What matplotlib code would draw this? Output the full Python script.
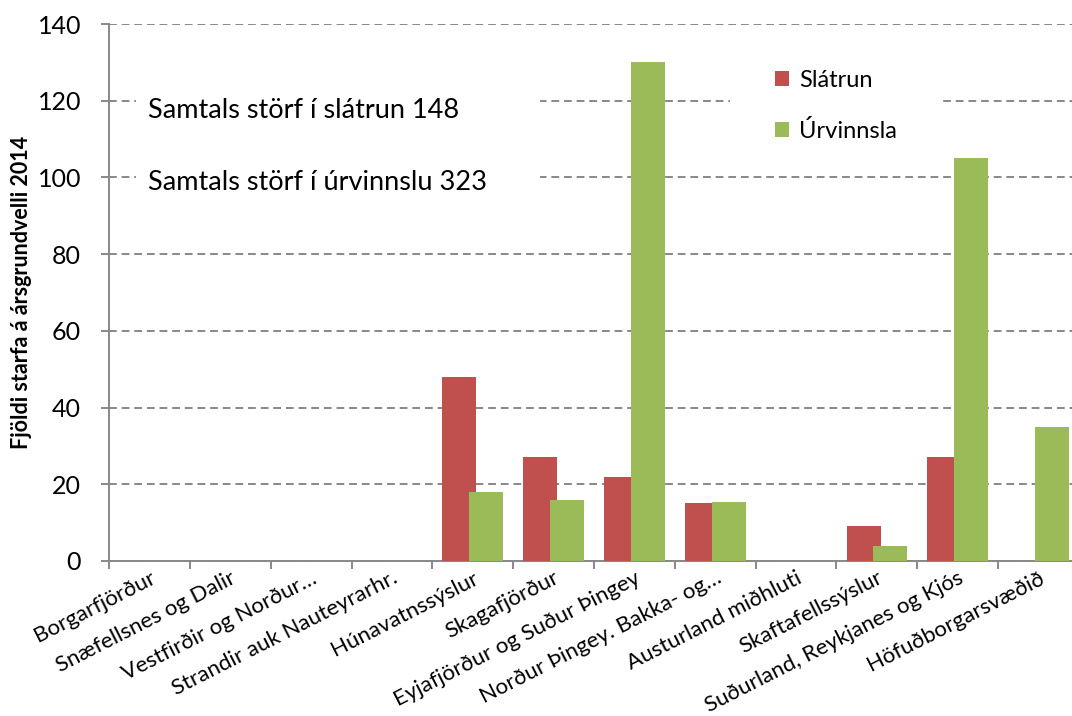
import numpy as np
import matplotlib.pyplot as plt
from matplotlib.patches import Rectangle

plt.rcParams['font.family'] = ['Lato', 'DejaVu Sans']

svaedi = ['Borgarfjörður', 'Snæfellsnes og Dalir', 'Vestfirðir og Norður…',
          'Strandir auk Nauteyrarhr.', 'Húnavatnssýslur', 'Skagafjörður',
          'Eyjafjörður og Suður Þingey', 'Norður Þingey. Bakka- og…',
          'Austurland miðhluti', 'Skaftafellssýslur',
          'Suðurland, Reykjanes og Kjós', 'Höfuðborgarsvæðið']
slatrun = [0, 0, 0, 0, 48, 27, 22, 15, 0, 9, 27, 0]
urvinnsla = [0, 0, 0, 0, 18, 16, 130, 15.4, 0, 4, 105, 35]

rautt = '#C0504D'
graent = '#9BBB59'
grar = '#888888'

fig = plt.figure(figsize=(10.72, 7.16), dpi=100)
# the plot area runs a little past the right edge of the picture, as in the original
ax = fig.add_axes([109/1072, 1 - 561/716, 970/1072, 537/716])

x = np.arange(len(svaedi))
w = 0.42
ax.bar(x - 0.165, slatrun, w, color=rautt, zorder=3, label='Slátrun')
ax.bar(x + 0.165, urvinnsla, w, color=graent, zorder=3, label='Úrvinnsla')

ax.set_xlim(-0.5, len(svaedi) - 0.5)
ax.set_ylim(0, 140)
ax.set_yticks(range(0, 141, 20))
ax.yaxis.grid(True, color=grar, linewidth=1.4, linestyle=(0, (4, 2.5)), zorder=0)
ax.set_axisbelow(True)

for s in ['top', 'right']:
    ax.spines[s].set_visible(False)
for s in ['left', 'bottom']:
    ax.spines[s].set_color(grar)
    ax.spines[s].set_linewidth(1.4)

ax.set_xticks(x)
ax.set_xticklabels(svaedi, rotation=27, ha='right', rotation_mode='anchor', fontsize=16)
ax.set_xticks(np.arange(len(svaedi) + 1) - 0.5, minor=True)
ax.tick_params(axis='x', which='major', length=0, pad=5)
ax.tick_params(axis='x', which='minor', length=6, width=1.4, color=grar)
ax.tick_params(axis='y', length=6, width=1.4, color=grar, labelsize=18, pad=14)

ax.set_ylabel('Fjöldi starfa á ársgrundvelli 2014', fontsize=15.5, fontweight='bold')
ax.yaxis.label.set_verticalalignment('center')
ax.yaxis.set_label_coords(-0.0905, 0.5)

# white boxes that hide the grid behind the texts
ax.add_patch(Rectangle((0.028, 0.626), 0.416, 0.344, transform=ax.transAxes,
                       facecolor='white', edgecolor='none', zorder=2))
ax.add_patch(Rectangle((0.640, 0.75), 0.22, 0.17, transform=ax.transAxes,
                       facecolor='white', edgecolor='none', zorder=2))

ax.text(148/1072, 1 - 110/716, 'Samtals störf í slátrun 148', transform=fig.transFigure,
        fontsize=19.5, va='center', ha='left', zorder=4)
ax.text(148/1072, 1 - 183/716, 'Samtals störf í úrvinnslu 323', transform=fig.transFigure,
        fontsize=19.5, va='center', ha='left', zorder=4)

leg = ax.legend(loc='upper left', bbox_to_anchor=(754/1072, 1 - 49/716),
                bbox_transform=fig.transFigure, frameon=False, fontsize=17,
                handlelength=0.6, handleheight=0.6, handletextpad=0.4,
                labelspacing=1.22)
leg.set_zorder(5)

fig.savefig('out.png', dpi=100)
